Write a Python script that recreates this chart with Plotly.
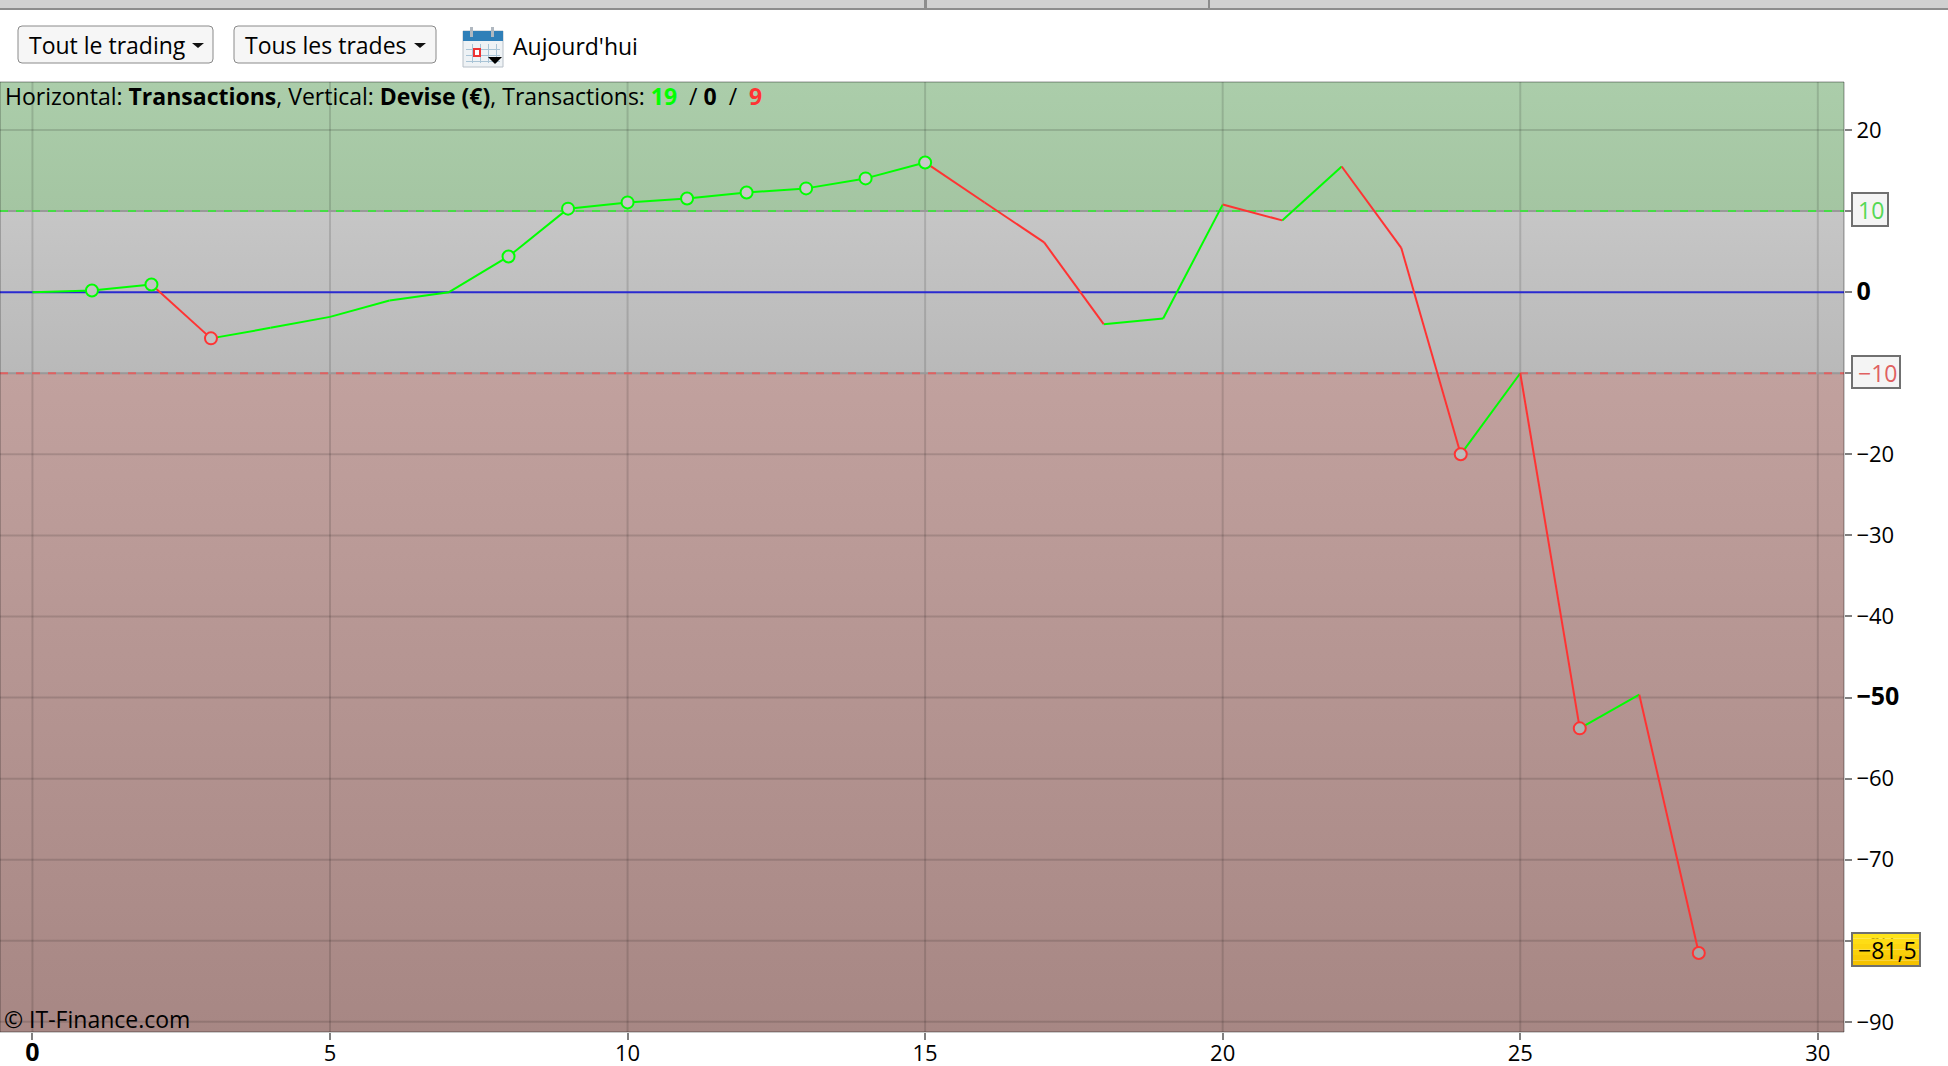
import plotly.graph_objects as go

# equity curve (one value per transaction)
transactions = list(range(29))
equity = [0, 0.2, 0.95, -5.7, -4.4, -3.05, -1.03, 0, 4.4, 10.3, 11.07, 11.56, 12.3, 12.8,
          14.03, 16.0, 11.06, 6.13, -3.95, -3.25, 10.8, 8.85, 15.5, 5.47, -20.0, -10.0,
          -53.8, -49.65, -81.5]
win_markers = [1, 2, 8, 9, 10, 11, 12, 13, 14, 15]
loss_markers = [3, 24, 26, 28]

BIG = "<span style='font-size:25px'><b>{}</b></span>"
x_ticks = [0, 5, 10, 15, 20, 25, 30]
x_labels = [BIG.format("0"), "5", "10", "15", "20", "25", "30"]
y_ticks = [20, 10, 0, -10, -20, -30, -40, -50, -60, -70, -80, -90]
y_labels = ["20", "", BIG.format("0"), "", "−20", "−30", "−40", BIG.format("−50"), "−60", "−70", "−80", "−90"]

upper_limit = 10
lower_limit = -10
last_value_label = "−81,5"

FONT = "Open Sans"
GREEN = "#00ff00"
RED = "#ff3333"
GRID = "rgba(0,0,0,0.13)"

# plot area in window pixels
LEFT, RIGHT, TOP, BOTTOM = 0, 1844, 82, 1032
x_min, x_max = -0.545, 30.44
y_min, y_max = -91.25, 25.92


def px(x):
    return (x - LEFT) / (RIGHT - LEFT)


def py(y):
    return (BOTTOM - y) / (BOTTOM - TOP)


def band(y_low, y_high, bottom_colour, top_colour):
    return go.Scatter(x=[x_min, x_max, x_max, x_min], y=[y_low, y_low, y_high, y_high],
                      mode="lines", line=dict(width=0), fill="toself", hoverinfo="skip",
                      fillgradient=dict(type="vertical",
                                        colorscale=[[0, bottom_colour], [1, top_colour]]))


def hline(y, colour, dash="solid"):
    return go.Scatter(x=[x_min, x_max], y=[y, y], mode="lines", hoverinfo="skip",
                      line=dict(color=colour, width=2, dash=dash))


fig = go.Figure()

# background bands
fig.add_trace(band(upper_limit, y_max, "#a4c5a2", "#abcdaa"))
fig.add_trace(band(lower_limit, upper_limit, "#b9b9b9", "#c6c6c6"))
fig.add_trace(band(y_min, lower_limit, "#a78784", "#c1a19e"))

# grid
for t in x_ticks:
    fig.add_trace(go.Scatter(x=[t, t], y=[y_min, y_max], mode="lines", hoverinfo="skip",
                             line=dict(color=GRID, width=2)))
for t in y_ticks:
    if t not in (0, upper_limit, lower_limit):
        fig.add_trace(hline(t, GRID))

# limits and zero
fig.add_trace(hline(upper_limit, "#999999"))
fig.add_trace(hline(upper_limit, "#44dd44", "8px,8px"))
fig.add_trace(hline(lower_limit, "#999999"))
fig.add_trace(hline(lower_limit, "#e06060", "8px,8px"))
fig.add_trace(hline(0, "#2a2ad0"))

# equity curve, green when rising and red when falling
up_x, up_y, down_x, down_y = [], [], [], []
for i in range(1, len(equity)):
    if equity[i] >= equity[i - 1]:
        up_x += [transactions[i - 1], transactions[i], None]
        up_y += [equity[i - 1], equity[i], None]
    else:
        down_x += [transactions[i - 1], transactions[i], None]
        down_y += [equity[i - 1], equity[i], None]
fig.add_trace(go.Scatter(x=up_x, y=up_y, mode="lines", line=dict(color=GREEN, width=2)))
fig.add_trace(go.Scatter(x=down_x, y=down_y, mode="lines", line=dict(color=RED, width=2)))

for idx, colour in ((win_markers, GREEN), (loss_markers, RED)):
    fig.add_trace(go.Scatter(
        x=[transactions[i] for i in idx], y=[equity[i] for i in idx], mode="markers",
        marker=dict(size=12, color=[equity[i] for i in idx], cmin=y_min, cmax=y_max,
                    colorscale=[[0, "#a4a4a4"], [1, "#cccccc"]],
                    line=dict(color=colour, width=2))))

shapes = []


def rect(x0, y0, x1, y1, fill, line=None, width=1):
    shapes.append(dict(type="rect", xref="paper", yref="paper", x0=px(x0), x1=px(x1),
                       y0=py(y1), y1=py(y0), fillcolor=fill,
                       line=dict(color=line or fill, width=width if line else 0)))


def button(x0, y0, x1, y1, r=4):
    l, t, e, b = px(x0), py(y0), px(x1), py(y1)
    rx, ry = r / (RIGHT - LEFT), r / (BOTTOM - TOP)
    path = (f"M{l + rx},{t} L{e - rx},{t} Q{e},{t} {e},{t - ry} L{e},{b + ry} Q{e},{b} {e - rx},{b} "
            f"L{l + rx},{b} Q{l},{b} {l},{b + ry} L{l},{t - ry} Q{l},{t} {l + rx},{t} Z")
    shapes.append(dict(type="path", xref="paper", yref="paper", path=path,
                       fillcolor="#f6f6f6", line=dict(color="#8a8a8a", width=1)))


def triangle(x, y, w, h, colour):
    path = f"M{px(x)},{py(y)} L{px(x + w)},{py(y)} L{px(x + w / 2)},{py(y + h)} Z"
    shapes.append(dict(type="path", xref="paper", yref="paper", path=path,
                       fillcolor=colour, line=dict(width=0)))


# plot frame
rect(LEFT, TOP, RIGHT, BOTTOM, "rgba(0,0,0,0)", "rgba(0,0,0,0.4)", 1)

# toolbar
rect(0, 0, 1948, 8, "#d0d0d0")
rect(0, 8, 1948, 10, "#8c8c8c")
rect(924, 0, 927, 10, "#8c8c8c")
rect(1208, 0, 1210, 10, "#8c8c8c")
button(18, 26, 213, 63)
button(234, 26, 436, 63)
triangle(192, 43, 12, 5, "#111111")
triangle(414, 43, 12, 5, "#111111")

# calendar icon
rect(463, 31, 503, 67, "#eef2f5", "#b8c0c8")
rect(463, 31, 503, 41, "#2f7fb8")
rect(470, 27, 473, 37, "#b0b8c0")
rect(491, 27, 494, 37, "#b0b8c0")
for gx in (472, 480, 488, 496):
    rect(gx, 44, gx + 1, 63, "#a9c4d6")
for gy in (49, 55, 61):
    rect(466, gy, 500, gy + 1, "#a9c4d6")
rect(474, 49, 480, 56, "#ffffff", "#ee3333", 2)
triangle(488, 57, 14, 7, "#000000")

# boxes holding the limits and the last value
rect(1852, 193, 1888, 226, "#f4f4f4", "#707070", 2)
rect(1852, 356, 1900, 388, "#f4f4f4", "#707070", 2)
gold = ["#ffe41a", "#fedd15", "#fcd610", "#fad00a", "#f8c905", "#f5c200"]
for i, c in enumerate(gold):
    rect(1852, 933 + i * 5.5, 1920, 933 + (i + 1) * 5.5, c)
rect(1852, 933, 1920, 966, "rgba(0,0,0,0)", "#707070", 2)


def text(x, y, s, size=23, colour="#000000", anchor="left"):
    fig.add_annotation(xref="paper", yref="paper", x=px(x), y=py(y), text=s, showarrow=False,
                       xanchor=anchor, yanchor="middle", borderpad=0,
                       font=dict(family=FONT, size=size, color=colour))


text(28, 45, "Tout le trading")
text(244, 45, "Tous les trades")
text(512, 46, "Aujourd'hui")
text(4, 96, "Horizontal: <b>Transactions</b>, Vertical: <b>Devise (€)</b>, Transactions: "
            f"<b><span style='color:{GREEN}'>19</span></b>\u00a0 / <b>0</b>\u00a0 /\u00a0 "
            f"<b><span style='color:{RED}'>9</span></b>")
text(3, 1019, "© IT-Finance.com")
text(1857, 210, "10", 23, "#55d855")
text(1857, 373, "−10", 23, "#e06060")
text(1857, 950, last_value_label, 23)

fig.update_layout(
    width=1948, height=1066, showlegend=False,
    paper_bgcolor="#ffffff", plot_bgcolor="#ffffff",
    margin=dict(l=LEFT, r=1948 - RIGHT, t=TOP, b=1066 - BOTTOM, pad=0),
    font=dict(family=FONT, size=22, color="#000000"),
    shapes=shapes,
    xaxis=dict(range=[x_min, x_max], tickvals=x_ticks, ticktext=x_labels, showgrid=False,
               zeroline=False, ticks="outside", ticklen=7, tickwidth=2, tickcolor="#808080",
               showline=False, automargin=False, ticklabelstandoff=-5),
    yaxis=dict(range=[y_min, y_max], tickvals=y_ticks, ticktext=y_labels, side="right",
               showgrid=False, zeroline=False, ticks="outside", ticklen=7, tickwidth=2,
               tickcolor="#808080", showline=False, automargin=False),
)

fig.write_html("out.html", config={"displayModeBar": False},
               post_script="document.body.style.margin='0';")
